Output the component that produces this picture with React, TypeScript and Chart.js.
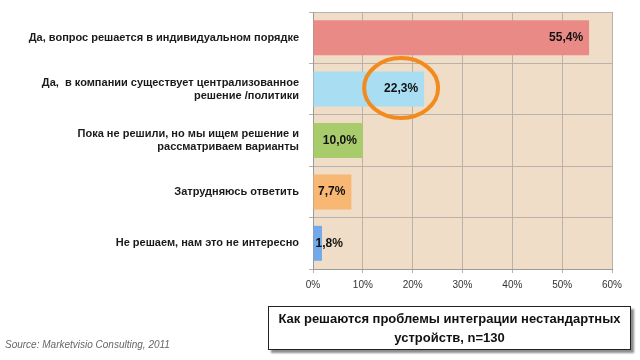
import React, { useEffect, useRef } from "react";
import { Chart, registerables } from "chart.js";

Chart.register(...registerables);

const categories: (string | string[])[] = [
  "Да, вопрос решается в индивидуальном порядке",
  ["Да,  в компании существует централизованное", "решение /политики"],
  ["Пока не решили, но мы ищем решение и", "рассматриваем варианты"],
  "Затрудняюсь ответить",
  "Не решаем, нам это не интересно",
];
const values = [55.4, 22.3, 10.0, 7.7, 1.8];
const valueLabels = ["55,4%", "22,3%", "10,0%", "7,7%", "1,8%"];
const barColors = ["#E98A87", "#A9DDF1", "#A8CC6C", "#F9B774", "#72A9EA"];
const xTicks = [0, 10, 20, 30, 40, 50, 60];
const highlightIndex = 1;

const labelPlugin = {
  id: "valueLabels",
  afterDatasetsDraw(chart: any) {
    const ctx = chart.ctx;
    const meta = chart.getDatasetMeta(0);
    ctx.save();
    ctx.font = "bold 12px 'Liberation Sans', Arial, sans-serif";
    ctx.fillStyle = "#111";
    ctx.textBaseline = "middle";
    meta.data.forEach((bar: any, i: number) => {
      const text = valueLabels[i];
      const w = ctx.measureText(text).width;
      const left = bar.base;
      const right = bar.x;
      if (right - left > w + 8) {
        ctx.textAlign = "right";
        ctx.fillText(text, right - 6, bar.y);
      } else {
        ctx.textAlign = "left";
        ctx.fillText(text, left + 2, bar.y);
      }
      if (i === highlightIndex) {
        const cx = right - 6 - w / 2;
        ctx.beginPath();
        ctx.strokeStyle = "#F28A1E";
        ctx.lineWidth = 4;
        ctx.ellipse(cx, bar.y - 1, 37, 30, 0, 0, Math.PI * 2);
        ctx.stroke();
      }
    });
    ctx.restore();
  },
};

const bgPlugin = {
  id: "plotBg",
  beforeDraw(chart: any) {
    const { ctx, chartArea } = chart;
    ctx.save();
    ctx.fillStyle = "#EFDDC7";
    ctx.fillRect(chartArea.left, chartArea.top, chartArea.right - chartArea.left, chartArea.bottom - chartArea.top);
    ctx.restore();
  },
};

export default function App() {
  const ref = useRef<HTMLCanvasElement>(null);
  useEffect(() => {
    const chart = new Chart(ref.current!, {
      type: "bar",
      data: {
        labels: categories,
        datasets: [
          {
            data: values,
            backgroundColor: barColors,
            borderWidth: 0,
            categoryPercentage: 0.68,
            barPercentage: 1,
          },
        ],
      },
      options: {
        indexAxis: "y",
        animation: false,
        responsive: false,
        maintainAspectRatio: false,
        layout: { padding: { left: 0, right: 28, top: 12, bottom: 63 } },
        plugins: { legend: { display: false }, tooltip: { enabled: false } },
        scales: {
          x: {
            min: 0,
            max: 60,
            afterBuildTicks: (s: any) => {
              s.ticks = xTicks.map((v) => ({ value: v }));
            },
            ticks: {
              callback: (v: any) => v + "%",
              font: { size: 10, family: "'Liberation Sans', Arial, sans-serif" },
              color: "#333",
              padding: 6,
            },
            grid: { color: "#B9B2A8", tickLength: 4, drawTicks: true },
            border: { color: "#999" },
          },
          y: {
            afterFit: (s: any) => {
              s.width = 313;
              s.paddingTop = 0;
              s.paddingBottom = 0;
            },
            ticks: {
              font: { size: 11, weight: "bold", family: "'Liberation Sans', Arial, sans-serif" },
              color: "#1a1a1a",
              padding: 10,
            },
            grid: { color: "#B9B2A8", tickLength: 4, offset: true },
            border: { color: "#999" },
          },
        },
      },
      plugins: [bgPlugin, labelPlugin],
    });
    return () => chart.destroy();
  }, []);

  return (
    <div style={{ position: "absolute", left: 0, top: 0, width: 640, height: 360, background: "#fff", overflow: "hidden" }}>
      <canvas ref={ref} width={640} height={360} style={{ position: "absolute", left: 0, top: 0 }} />
      <div
        style={{
          position: "absolute",
          left: 268,
          top: 306,
          width: 363,
          height: 44,
          border: "1px solid #222",
          background: "#fff",
          boxShadow: "3px 3px 2px rgba(0,0,0,0.45)",
          boxSizing: "border-box",
          fontFamily: "'Liberation Sans', Arial, sans-serif",
          fontWeight: "bold",
          fontSize: 13,
          lineHeight: "19px",
          textAlign: "center",
          color: "#111",
          paddingTop: 2,
        }}
      >
        Как решаются проблемы интеграции нестандартных
        <br />
        устройств, n=130
      </div>
      <div
        style={{
          position: "absolute",
          left: 5,
          top: 339,
          fontFamily: "'Liberation Sans Narrow', 'Liberation Sans', Arial, sans-serif",
          fontStyle: "italic",
          fontSize: 10,
          color: "#666",
        }}
      >
        Source: Marketvisio Consulting, 2011
      </div>
    </div>
  );
}
